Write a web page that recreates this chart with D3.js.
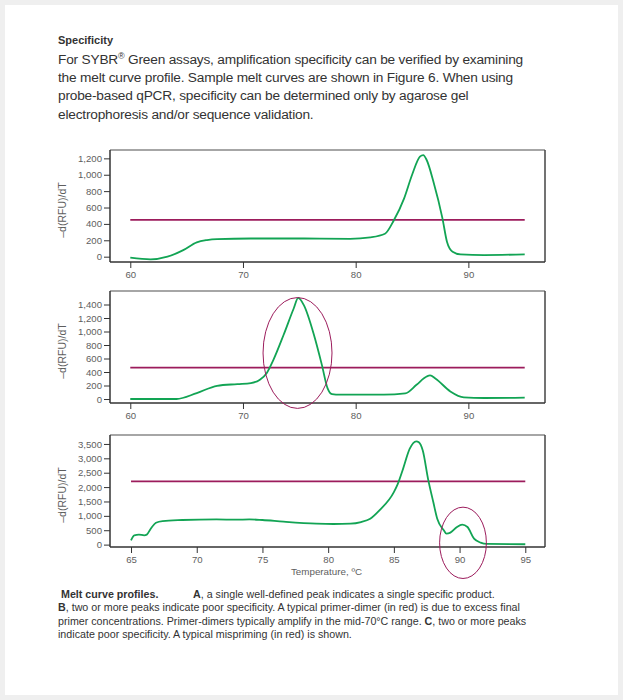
<!DOCTYPE html>
<html><head><meta charset="utf-8">
<script src="https://cdn.jsdelivr.net/npm/d3@7"></script>
<style>
html,body{margin:0;padding:0;background:#efefef;}
svg{display:block;}
</style></head>
<body>
<script>
// ---- Data ----
const tempsA = [60,61.8,63.3,64.7,65.9,66.8,67.7,70.7,75,79.5,81.3,82.6,83.4,84.3,85.0,85.7,86.0,86.3,86.9,87.7,88.1,88.6,89.3,91.4,95];
const valsA  = [-12,-33,0,80,175,203,215,222,222,218,236,280,447,712,997,1220,1240,1180,915,468,183,61,28,20,28];

const tempsB = [60,64.1,65.9,67.7,69.5,70.7,71.5,72.1,72.7,73.6,74.5,74.9,75.4,76.3,77.0,77.5,77.9,78.6,82.5,84.4,85.4,86.3,86.6,87.1,88.4,89.6,91.4,95];
const valsB  = [0,0,88,196,221,236,285,383,580,948,1341,1498,1390,948,506,162,74,64,64,84,211,334,349,300,113,25,15,20];

const tempsC = [65,65.25,65.6,66.0,66.2,66.5,66.9,67.4,68.9,71.5,73.0,74.0,75.0,76.6,79.1,80.4,81.7,82.5,83.2,83.9,85.0,85.3,85.7,86.2,86.7,86.9,87.2,87.6,88.0,88.3,88.8,89.0,89.3,89.8,90.2,90.6,91.1,91.6,92.1,95];
const valsC  = [150,323,347,323,347,554,762,820,855,878,866,878,855,797,728,716,728,785,900,1190,1825,2114,2634,3327,3592,3558,3269,2287,1479,900,497,381,416,612,693,612,208,69,23,12];

const thresholds = [450, 465, 2200];
const xTicksAB = [60,70,80,90];
const xTicksC  = [65,70,75,80,85,90,95];
const yTicksA = [0,200,400,600,800,1000,1200];
const yTicksB = [0,200,400,600,800,1000,1200,1400];
const yTicksC = [0,500,1000,1500,2000,2500,3000,3500];

// ellipse annotations: [centerTemp, centerValue, radiusTemp, radiusValue]
const ellipseB = [74.84, 682, 3.06, 821];
const ellipseC = [90.26, 62, 1.78, 1240];

const headingText = "Specificity";
const paraLines = [
  ["For SYBR", "®", " Green assays, amplification specificity can be verified by examining"],
  ["the melt curve profile. Sample melt curves are shown in Figure 6. When using"],
  ["probe-based qPCR, specificity can be determined only by agarose gel"],
  ["electrophoresis and/or sequence validation."]
];
const yTitle = "\u2013d(RFU)/dT";
const xTitle = "Temperature, \u00baC";

// ---- Drawing ----
const W = 623, H = 700;
const GREEN = "#12a454", MAROON = "#9c1c5c", TXT = "#333", TICK = "#5e5e5e";
const svg = d3.select("body").append("svg").attr("width", W).attr("height", H);
svg.append("rect").attr("x",5).attr("y",5).attr("width",613).attr("height",690).attr("fill","#fff");

const FONT = "'Liberation Sans', Arial, Helvetica, sans-serif";

svg.append("text").attr("x",58).attr("y",44).attr("font-family",FONT).attr("font-size",11)
  .attr("font-weight","bold").attr("fill",TXT).text(headingText);

paraLines.forEach((parts,i)=>{
  const t = svg.append("text").attr("x",58).attr("y",63.5+i*18.4).attr("font-family",FONT)
    .attr("font-size",13.7).attr("letter-spacing",-0.2).attr("fill",TXT);
  if (parts.length===3){
    t.append("tspan").text(parts[0]);
    t.append("tspan").attr("font-size",9).attr("dy",-5).text(parts[1]);
    t.append("tspan").attr("dy",5).text(parts[2]);
  } else t.text(parts[0]);
});

const panels = [
  {temps:tempsA, vals:valsA, thr:thresholds[0], top:150, bottom:262, xd:[58.2,96.8], yd:[-65,1302], xt:xTicksAB, yt:yTicksA, lineX:[60,95]},
  {temps:tempsB, vals:valsB, thr:thresholds[1], top:291, bottom:403, xd:[58.2,96.8], yd:[-59,1600], xt:xTicksAB, yt:yTicksB, lineX:[60,95], ell:ellipseB},
  {temps:tempsC, vals:valsC, thr:thresholds[2], top:435, bottom:547, xd:[63.4,96.5], yd:[-83,3811], xt:xTicksC, yt:yTicksC, lineX:[65,95], ell:ellipseC, xlabel:true}
];
const L = 110, R = 545;

panels.forEach(p=>{
  const x = d3.scaleLinear().domain(p.xd).range([L,R]);
  const y = d3.scaleLinear().domain(p.yd).range([p.bottom,p.top]);
  const g = svg.append("g");
  // frame
  g.append("line").attr("x1",L).attr("x2",R).attr("y1",p.top).attr("y2",p.top).attr("stroke","#888").attr("stroke-width",1.5);
  g.append("line").attr("x1",R).attr("x2",R).attr("y1",p.top).attr("y2",p.bottom).attr("stroke","#444").attr("stroke-width",1.5);
  // axes
  const ya = g.append("g").attr("transform",`translate(${L},0)`)
    .call(d3.axisLeft(y).tickValues(p.yt).tickFormat(d3.format(",")).tickSize(6).tickPadding(2).tickSizeOuter(0));
  const xa = g.append("g").attr("transform",`translate(0,${p.bottom})`)
    .call(d3.axisBottom(x).tickValues(p.xt).tickSize(6).tickPadding(3).tickSizeOuter(0));
  [ya,xa].forEach(a=>{
    a.select(".domain").attr("stroke","#333").attr("stroke-width",1.5);
    a.selectAll(".tick line").attr("stroke","#333");
    a.selectAll("text").attr("fill",TICK).attr("font-family",FONT).attr("font-size",9.6);
  });
  ya.select(".domain").attr("d",`M0,${p.top}V${p.bottom}`);
  xa.select(".domain").attr("d",`M${L},0H${R}`);
  // y title
  g.append("text").attr("transform",`translate(65.5,${(p.top+p.bottom)/2 + 4}) rotate(-90)`)
    .attr("text-anchor","middle").attr("font-family",FONT).attr("font-size",10.5).attr("fill",TICK).text(yTitle);
  // threshold
  g.append("line").attr("x1",x(p.lineX[0])).attr("x2",x(p.lineX[1])).attr("y1",y(p.thr)).attr("y2",y(p.thr))
    .attr("stroke",MAROON).attr("stroke-width",1.8);
  // curve
  const data = p.temps.map((t,i)=>[t,p.vals[i]]);
  g.append("path").datum(data).attr("fill","none").attr("stroke",GREEN).attr("stroke-width",1.8)
    .attr("d", d3.line().x(d=>x(d[0])).y(d=>y(d[1])).curve(d3.curveMonotoneX));
  if (p.ell){
    const e = p.ell;
    g.append("ellipse").attr("cx",x(e[0])).attr("cy",y(e[1]))
      .attr("rx",x(e[0]+e[2])-x(e[0])).attr("ry",y(e[1])-y(e[1]+e[3]))
      .attr("fill","none").attr("stroke",MAROON).attr("stroke-width",1);
  }
  if (p.xlabel){
    g.append("text").attr("x",(L+R)/2 - 1).attr("y",p.bottom+28).attr("text-anchor","middle")
      .attr("font-family",FONT).attr("font-size",9.8).attr("fill",TICK).text(xTitle);
  }
});

// caption
const cap = [
  [{t:"Melt curve profiles.",b:true,x:61},{t:"A",b:true,x:193},{t:", a single well-defined peak indicates a single specific product."}],
  [{t:"B",b:true,x:58},{t:", two or more peaks indicate poor specificity. A typical primer-dimer (in red) is due to excess final"}],
  [{t:"primer concentrations. Primer-dimers typically amplify in the mid-70\u00b0C range. ",x:58},{t:"C",b:true},{t:", two or more peaks"}],
  [{t:"indicate poor specificity. A typical mispriming (in red) is shown.",x:58}]
];
cap.forEach((line,i)=>{
  const t = svg.append("text").attr("y",597.5+i*13.6).attr("font-family",FONT).attr("font-size",10.7).attr("fill",TXT);
  line.forEach(s=>{
    const ts = t.append("tspan").text(s.t);
    if (s.x!==undefined) ts.attr("x",s.x);
    if (s.b) ts.attr("font-weight","bold");
  });
});
</script>
</body></html>
